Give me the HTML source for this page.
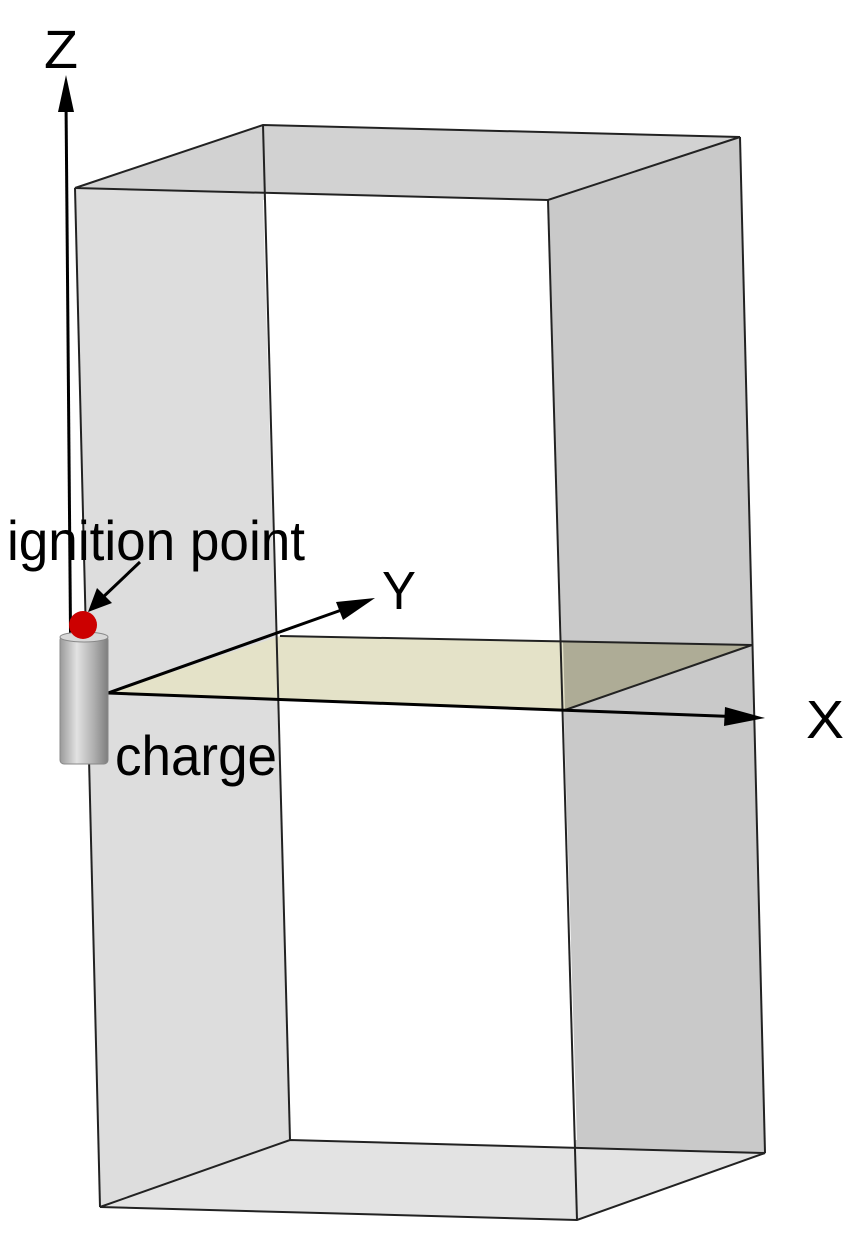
<!DOCTYPE html>
<html><head><meta charset="utf-8"><style>
html,body{margin:0;padding:0;background:#fff;}
svg{display:block;}
text{font-family:"Liberation Sans",sans-serif;fill:#000;}
</style></head><body>
<svg width="844" height="1241" viewBox="0 0 844 1241" xmlns="http://www.w3.org/2000/svg">
<defs>
<linearGradient id="cyl" x1="0" x2="1" y1="0" y2="0">
<stop offset="0" stop-color="#9a9a9a"/><stop offset="0.35" stop-color="#e2e2e2"/><stop offset="0.7" stop-color="#b0b0b0"/><stop offset="1" stop-color="#7e7e7e"/>
</linearGradient>
</defs>
<polygon points="75,188 263,125 290,1140 100,1207" fill="#dddddd"/>
<polygon points="548,200 740,137 765,1153 577,1220" fill="#c9c9c9"/>
<polygon points="75,188 263,125 740,137 548,200" fill="#d2d2d2"/>
<polygon points="100,1207 290,1140 765,1153 577,1220" fill="#e3e3e3"/>
<polygon points="263,200 548,200 577,1140 290,1140" fill="#ffffff"/>
<polygon points="110,693 280,636 752,645 565,710" fill="#e4e2c8"/>
<polygon points="563,641 752,645 565,710" fill="#aeac96"/>
<g stroke="#222" stroke-width="2" fill="none">
<polygon points="75,188 263,125 740,137 548,200"/>
<polygon points="100,1207 290,1140 765,1153 577,1220"/>
<line x1="75" y1="188" x2="100" y2="1207"/>
<line x1="263" y1="125" x2="290" y2="1140"/>
<line x1="740" y1="137" x2="765" y2="1153"/>
<line x1="548" y1="200" x2="577" y2="1220"/>
<line x1="280" y1="636" x2="752" y2="645"/>
<line x1="752" y1="645" x2="565" y2="710"/>
</g>
<g stroke="#000" stroke-width="3" fill="none">
<line x1="71" y1="690" x2="66" y2="100"/>
<line x1="108" y1="693" x2="745" y2="717"/>
<line x1="108" y1="693" x2="350" y2="607"/>
<line x1="140" y1="562" x2="100" y2="600"/>
</g>
<polygon points="66,75 58,112 74,112" fill="#000"/>
<polygon points="765,718 725,707 724,726" fill="#000"/>
<polygon points="375,598 336,602 343,620" fill="#000"/>
<polygon points="88,612 97,588 112,603" fill="#000"/>
<rect x="60" y="636" width="48" height="128" rx="4" fill="url(#cyl)" stroke="#888" stroke-width="1"/>
<ellipse cx="84" cy="637" rx="24" ry="5" fill="#d8d8d8" stroke="#888" stroke-width="1"/>
<circle cx="83" cy="625" r="14" fill="#cc0000"/>
<text x="44" y="68" font-size="54" textLength="34" lengthAdjust="spacingAndGlyphs">Z</text>
<text x="806" y="738" font-size="54" textLength="38" lengthAdjust="spacingAndGlyphs">X</text>
<text x="382" y="609" font-size="54" textLength="34" lengthAdjust="spacingAndGlyphs">Y</text>
<text x="7" y="560" font-size="56" textLength="298" lengthAdjust="spacingAndGlyphs">ignition point</text>
<text x="115" y="775" font-size="56" textLength="162" lengthAdjust="spacingAndGlyphs">charge</text>
</svg>
</body></html>
